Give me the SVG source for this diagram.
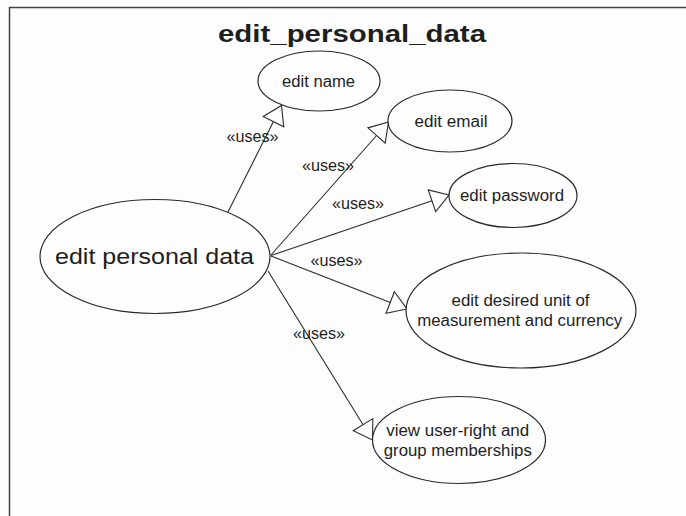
<svg xmlns="http://www.w3.org/2000/svg" width="686" height="516" viewBox="0 0 686 516">
  <defs>
    <style>
      .uc ellipse { fill: #fdfefd; stroke: #2a2a2a; stroke-width: 1.2; }
      text { font-family: "Liberation Sans", Arial, sans-serif; fill: #1e1e1e; text-anchor: middle; }
      .t { font-size: 16px; }
      .lbl { font-size: 16px; }
      .conn line { stroke: #2a2a2a; stroke-width: 1.1; marker-end: url(#tri); }
    </style>
    <marker id="tri" markerUnits="userSpaceOnUse" markerWidth="22" markerHeight="28" refX="19" refY="13" orient="auto" overflow="visible">
      <path d="M1,1.5 L19,13 L1,24.5 Z" fill="#fdfefd" stroke="#2a2a2a" stroke-width="1.1"/>
    </marker>
  </defs>
  <rect x="0" y="0" width="686" height="516" fill="#fcfdfc"/>
  <path d="M9.5,516 L9.5,7.5 L686,7.5" fill="none" stroke="#444" stroke-width="1.5"/>
  <text x="352" y="41.5" font-size="23.5" font-weight="bold" textLength="268" lengthAdjust="spacingAndGlyphs">edit_personal_data</text>

  <g id="connectors" class="conn">
    <line x1="227" y1="214" x2="281.5" y2="105.5"/>
    <line x1="271" y1="255" x2="388.5" y2="122"/>
    <line x1="271" y1="255.5" x2="449" y2="195"/>
    <line x1="271" y1="256" x2="407" y2="309"/>
    <line x1="268" y1="271" x2="372.5" y2="440"/>
    <text class="lbl" x="252.5" y="141.5" textLength="52" lengthAdjust="spacingAndGlyphs">«uses»</text>
    <text class="lbl" x="328" y="170.5" textLength="52" lengthAdjust="spacingAndGlyphs">«uses»</text>
    <text class="lbl" x="358" y="208.5" textLength="52" lengthAdjust="spacingAndGlyphs">«uses»</text>
    <text class="lbl" x="336.5" y="265.5" textLength="52" lengthAdjust="spacingAndGlyphs">«uses»</text>
    <text class="lbl" x="319" y="338.5" textLength="52" lengthAdjust="spacingAndGlyphs">«uses»</text>
  </g>

  <g id="edit_personal_data" class="uc">
    <ellipse cx="155" cy="256.5" rx="115" ry="57"/>
    <text x="154.5" y="264" font-size="22" textLength="199" lengthAdjust="spacingAndGlyphs">edit personal data</text>
  </g>
  <g id="edit_name" class="uc">
    <ellipse cx="319" cy="81" rx="61" ry="30"/>
    <text class="t" x="318.5" y="86.5" textLength="73" lengthAdjust="spacingAndGlyphs">edit name</text>
  </g>
  <g id="edit_email" class="uc">
    <ellipse cx="450" cy="121" rx="62" ry="31"/>
    <text class="t" x="451" y="126.5" textLength="73" lengthAdjust="spacingAndGlyphs">edit email</text>
  </g>
  <g id="edit_password" class="uc">
    <ellipse cx="513" cy="195.5" rx="64" ry="32"/>
    <text class="t" x="512" y="201" textLength="104" lengthAdjust="spacingAndGlyphs">edit password</text>
  </g>
  <g id="edit_unit_currency" class="uc">
    <ellipse cx="521" cy="310.5" rx="115" ry="57.5"/>
    <text class="t" x="520.5" y="305.5" textLength="138" lengthAdjust="spacingAndGlyphs">edit desired unit of</text>
    <text class="t" x="519.7" y="325.5" textLength="205" lengthAdjust="spacingAndGlyphs">measurement and currency</text>
  </g>
  <g id="view_user_rights" class="uc">
    <ellipse cx="459" cy="440" rx="86.5" ry="43.5"/>
    <text class="t" x="457.7" y="435.5" textLength="143" lengthAdjust="spacingAndGlyphs">view user-right and</text>
    <text class="t" x="457.8" y="455.5" textLength="148" lengthAdjust="spacingAndGlyphs">group memberships</text>
  </g>
</svg>
